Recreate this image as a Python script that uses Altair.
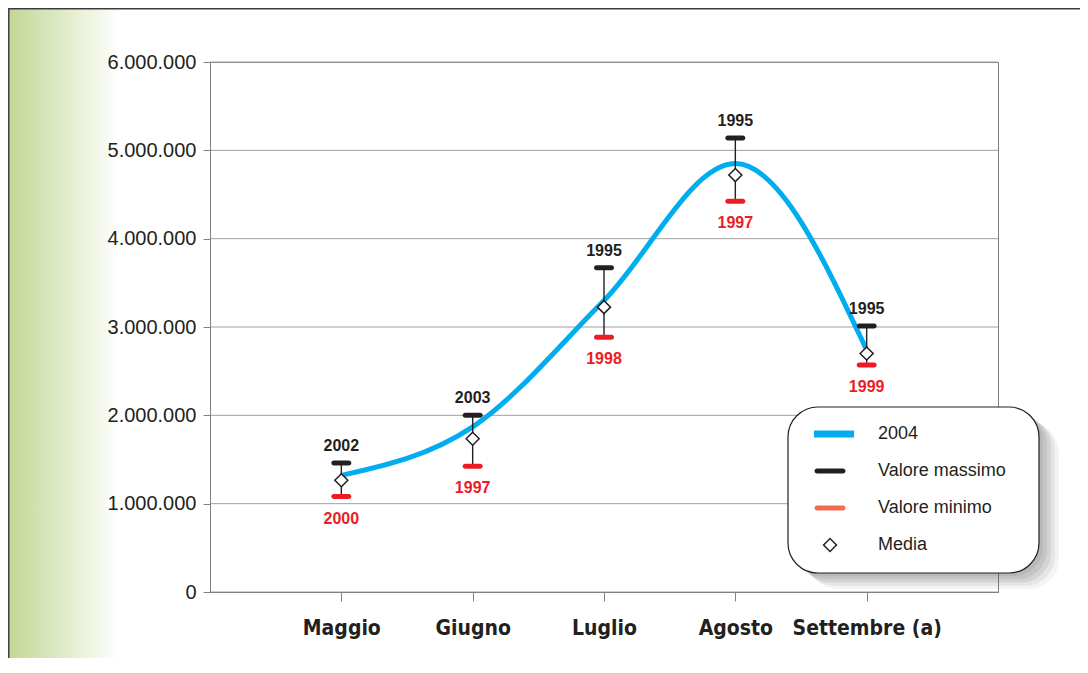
import altair as alt
import pandas as pd

# ---------------- data ----------------
mesi = ["Maggio", "Giugno", "Luglio", "Agosto", "Settembre (a)"]
valori_2004 = [1320000, 1870000, 3300000, 4850000, 2740000]
valore_massimo = [1460000, 2000000, 3670000, 5140000, 3010000]
anno_massimo = ["2002", "2003", "1995", "1995", "1995"]
valore_minimo = [1080000, 1425000, 2885000, 4425000, 2570000]
anno_minimo = ["2000", "1997", "1998", "1997", "1999"]
media = [1265000, 1735000, 3225000, 4720000, 2700000]
y_ticks = [0, 1000000, 2000000, 3000000, 4000000, 5000000, 6000000]
voci_legenda = ["2004", "Valore massimo", "Valore minimo", "Media"]
colori_legenda = ["#00AEEF", "#231F20", "#F26C4F", "#231F20"]
simboli_legenda = [
    "M-1.6,-0.35L2.4,-0.35L2.4,0.35L-1.6,0.35Z",
    "M-1.3,-0.25L1.3,-0.25A0.25,0.25 0 0 1 1.3,0.25L-1.3,0.25A0.25,0.25 0 0 1 -1.3,-0.25Z",
    "M-1.3,-0.25L1.3,-0.25A0.25,0.25 0 0 1 1.3,0.25L-1.3,0.25A0.25,0.25 0 0 1 -1.3,-0.25Z",
    "M0,-0.75L0.75,0L0,0.75L-0.75,0ZM0,-0.54L-0.54,0L0,0.54L0.54,0Z",
]

df = pd.DataFrame({
    "mese": mesi,
    "v2004": valori_2004,
    "massimo": valore_massimo,
    "anno_max": anno_massimo,
    "minimo": valore_minimo,
    "anno_min": anno_minimo,
    "media": media,
})
df_ticks = pd.DataFrame({"v": y_ticks})
df_leg = pd.DataFrame({"serie": voci_legenda})
one = pd.DataFrame({"a": [0]})

W, H = 788, 530
BLACK = "#231F20"
RED = "#ED1C24"
CYAN = "#00AEEF"
GRAY = "#808080"

x_scale = alt.Scale(type="point", padding=1, domain=mesi)
y_scale = alt.Scale(domain=[0, 6000000], nice=False, zero=True)

x_axis = alt.Axis(
    title=None, labelAngle=0, grid=False, domainColor=GRAY, tickColor=GRAY,
    tickSize=9, labelPadding=16, labelFont="DejaVu Sans Condensed, Liberation Sans, sans-serif",
    labelFontWeight="bold", labelFontSize=21, labelColor=BLACK, zindex=1,
)
y_axis = alt.Axis(
    title=None, values=y_ticks, grid=False, domainColor=GRAY, tickColor=GRAY,
    tickSize=7, labelPadding=7, labelFont="Liberation Sans", labelFontSize=20,
    labelColor=BLACK, zindex=1,
    labelExpr="replace(format(datum.value, ',d'), regexp(',', 'g'), '.')",
)

X = alt.X("mese:N", scale=x_scale, axis=x_axis, sort=mesi)

# ---------------- decorations ----------------
gradient = alt.Chart(one).mark_rect(
    fill=alt.LinearGradient(
        gradient="linear",
        stops=[alt.GradientStop(color="#C3D795", offset=0),
               alt.GradientStop(color="#FFFFFF", offset=1)],
        x1=0, x2=1, y1=0, y2=0,
    )
).encode(x=alt.value(-201), x2=alt.value(-90), y=alt.value(-54), y2=alt.value(620))

border = alt.Chart(one).mark_rect(fill=None, stroke="#3C3C3C", strokeWidth=1.5).encode(
    x=alt.value(-201.2), x2=alt.value(1200), y=alt.value(-53.3), y2=alt.value(1200)
)

grid = alt.Chart(df_ticks).mark_rule(color="#A0A0A0", strokeWidth=1).encode(
    y=alt.Y("v:Q", scale=y_scale, axis=y_axis)
)

# ---------------- data marks ----------------
base = alt.Chart(df)

line = base.mark_line(color=CYAN, strokeWidth=5, interpolate="monotone").encode(
    x=X, y=alt.Y("v2004:Q", scale=y_scale)
)
err = base.mark_rule(color=BLACK, strokeWidth=1.4).encode(
    x=X, y=alt.Y("minimo:Q", scale=y_scale), y2="massimo:Q"
)
cap_max = base.mark_tick(color=BLACK, thickness=5, size=20, cornerRadius=2.5, opacity=1).encode(
    x=X, y=alt.Y("massimo:Q", scale=y_scale)
)
cap_min = base.mark_tick(color=RED, thickness=5, size=20, cornerRadius=2.5, opacity=1).encode(
    x=X, y=alt.Y("minimo:Q", scale=y_scale)
)
pts = base.mark_point(shape="diamond", filled=True, fill="white", stroke=BLACK,
                      strokeWidth=1.5, size=170, opacity=1).encode(
    x=X, y=alt.Y("media:Q", scale=y_scale)
)
txt_max = base.mark_text(font="Liberation Sans", fontWeight="bold", fontSize=16,
                         color=BLACK, baseline="alphabetic", dy=-12).encode(
    x=X, y=alt.Y("massimo:Q", scale=y_scale), text="anno_max:N"
)
txt_min = base.mark_text(font="Liberation Sans", fontWeight="bold", fontSize=16,
                         color=RED, baseline="alphabetic", dy=27).encode(
    x=X, y=alt.Y("minimo:Q", scale=y_scale), text="anno_min:N"
)

# ---------------- legend ----------------
LX, LY, LX2, LY2 = 578, 345, 829, 511
shadows = []
for d, op in [(4, 0.10), (8, 0.10), (12, 0.10), (16, 0.08), (20, 0.06)]:
    shadows.append(
        alt.Chart(one).mark_rect(fill="#404040", opacity=op, cornerRadius=30).encode(
            x=alt.value(LX + d), x2=alt.value(LX2 + d),
            y=alt.value(LY + d * 0.8), y2=alt.value(LY2 + d * 0.8),
        )
    )
box = alt.Chart(one).mark_rect(fill="white", stroke=BLACK, strokeWidth=1.2, cornerRadius=30).encode(
    x=alt.value(LX), x2=alt.value(LX2), y=alt.value(LY), y2=alt.value(LY2)
)

leg = alt.Legend(
    title=None, orient="none", legendX=LX, legendY=LY, padding=17,
    symbolSize=400, symbolOffset=15, labelOffset=38, rowPadding=18,
    labelFont="Liberation Sans", labelFontSize=18, labelColor=BLACK,
    symbolStrokeWidth=0, symbolOpacity=1,
)
legend_layer = alt.Chart(df_leg).mark_point(filled=True).encode(
    x=alt.value(-3000), y=alt.value(-3000),
    color=alt.Color("serie:N", scale=alt.Scale(domain=voci_legenda, range=colori_legenda), legend=leg),
    shape=alt.Shape("serie:N", scale=alt.Scale(domain=voci_legenda, range=simboli_legenda), legend=leg),
)

chart = alt.layer(
    gradient, border, grid, line, err, cap_max, cap_min, pts, txt_max, txt_min,
    *shadows, box, legend_layer,
).properties(
    width=W, height=H,
    autosize=alt.AutoSizeParams(type="none"),
    padding={"left": 202, "top": 54, "right": 82, "bottom": 66},
    background="white",
).configure_view(stroke=GRAY, strokeWidth=1)

chart.save("out.html", embed_options={"renderer": "svg", "actions": False})
